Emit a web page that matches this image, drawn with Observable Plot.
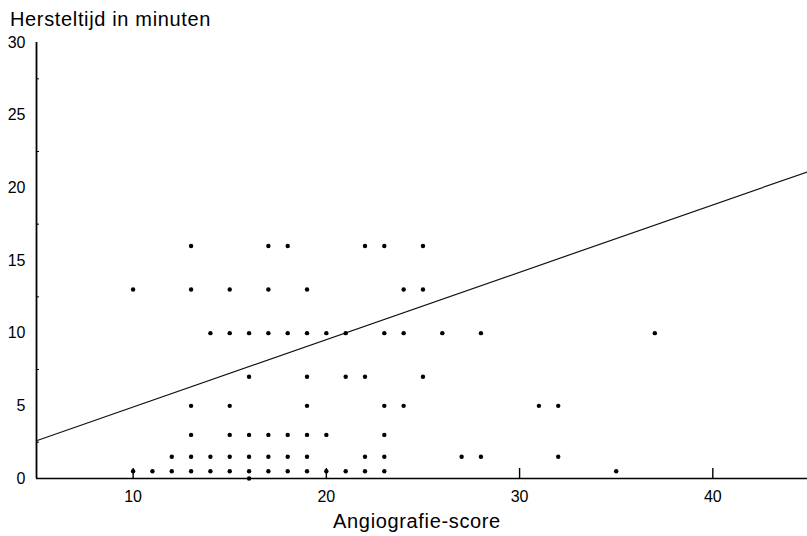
<!DOCTYPE html>
<html>
<head>
<meta charset="utf-8">
<script src="https://cdn.jsdelivr.net/npm/d3@7"></script>
<script src="https://cdn.jsdelivr.net/npm/@observablehq/plot@0.6"></script>
<style>
  body { margin: 0; background: #fff; font-family: "Liberation Sans", Arial, Helvetica, sans-serif; color: #000; }
  #wrap { position: relative; width: 807px; height: 536px; overflow: hidden; }
  #title { height: 34px; line-height: 38px; padding-left: 10px; font-size: 20px; letter-spacing: 0.65px; white-space: nowrap; }
  #xlabel { position: absolute; left: 417px; top: 506px; transform: translateX(-50%); font-size: 20px; line-height: 30px; letter-spacing: 0.65px; white-space: nowrap; }
  svg { display: block; }
  #chart svg text { font-size: 16px; fill: #000; }
</style>
</head>
<body>
<div id="wrap">
  <div id="title">Hersteltijd in minuten</div>
  <div id="chart"></div>
  <div id="xlabel">Angiografie-score</div>
</div>
<script>
// Recovery time levels (minutes) and the angiography scores observed at each level
const timeLevels = [16, 13, 10, 7, 5, 3, 1.5, 0.5, 0];
const scoresAt16 = [13, 17, 18, 22, 23, 25];
const scoresAt13 = [10, 13, 15, 17, 19, 24, 25];
const scoresAt10 = [14, 15, 16, 17, 18, 19, 20, 21, 23, 24, 26, 28, 37];
const scoresAt7 = [16, 19, 21, 22, 25];
const scoresAt5 = [13, 15, 19, 23, 24, 31, 32];
const scoresAt3 = [13, 15, 16, 17, 18, 19, 20, 23];
const scoresAt1_5 = [12, 13, 14, 15, 16, 17, 18, 19, 22, 23, 27, 28, 32];
const scoresAt0_5 = [10, 11, 12, 13, 14, 15, 16, 17, 18, 19, 20, 21, 22, 23, 35];
const scoresAt0 = [16];

// Fitted regression line end points
const fitScore = [5, 44.9];
const fitTime = [2.6, 21.1];

// Axis ticks
const xTicks = [10, 20, 30, 40];
const yTicks = [0, 5, 10, 15, 20, 25, 30];
const yMinorTicks = [2.5, 7.5, 12.5, 17.5, 22.5, 27.5];

const scoreGroups = [scoresAt16, scoresAt13, scoresAt10, scoresAt7, scoresAt5, scoresAt3, scoresAt1_5, scoresAt0_5, scoresAt0];
const points = scoreGroups.flatMap((g, i) => g.map(s => ({score: s, time: timeLevels[i]})));
const fit = fitScore.map((s, i) => ({score: s, time: fitTime[i]}));

const W = 807, H = 472, mT = 8, mB = 28, mL = 36, mR = 0;
const frameH = H - mT - mB, frameW = W - mL - mR;
const innerTick = 10, minorTick = 3;

const plot = Plot.plot({
  width: W,
  height: H,
  marginTop: mT,
  marginBottom: mB,
  marginLeft: mL,
  marginRight: mR,
  style: {fontFamily: "'Liberation Sans', Arial, Helvetica, sans-serif", fontSize: "16px", color: "#000", background: "transparent", overflow: "visible"},
  x: {domain: [5, 44.9], ticks: xTicks, tickSize: 0, tickPadding: 12, label: null},
  y: {domain: [0, 30], ticks: yTicks, tickSize: 0, tickPadding: 11, label: null},
  marks: [
    Plot.ruleX(xTicks, {insetTop: frameH - innerTick, strokeWidth: 1.4}),
    Plot.ruleY(yMinorTicks, {insetRight: frameW - minorTick, strokeWidth: 1}),
    Plot.ruleX([5], {strokeWidth: 1.8}),
    Plot.ruleY([0], {strokeWidth: 1.4}),
    Plot.line(fit, {x: "score", y: "time", stroke: "#111", strokeWidth: 1.2}),
    Plot.dot(points, {x: "score", y: "time", r: 2.2, fill: "#000", stroke: "none"})
  ]
});
document.getElementById("chart").appendChild(plot);
</script>
</body>
</html>
